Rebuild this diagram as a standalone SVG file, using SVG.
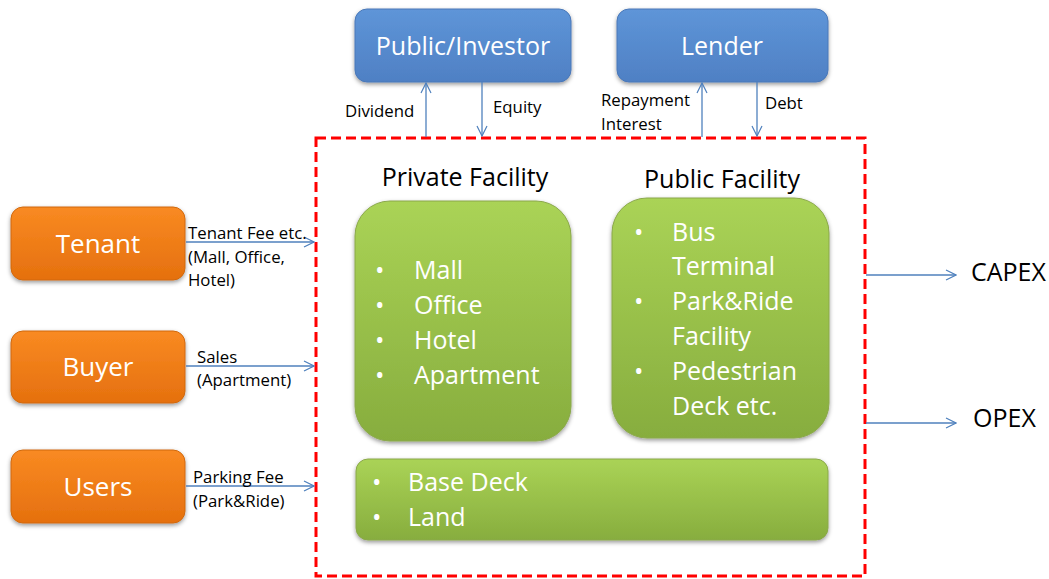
<svg xmlns="http://www.w3.org/2000/svg" width="1049" height="579" viewBox="0 0 1049 579">
<defs>
<linearGradient id="gBlue" x1="0" y1="0" x2="0" y2="1"><stop offset="0" stop-color="#5e95d8"/><stop offset="1" stop-color="#4f80c4"/></linearGradient>
<linearGradient id="gOrange" x1="0" y1="0" x2="0" y2="1"><stop offset="0" stop-color="#f98a22"/><stop offset="1" stop-color="#e5700e"/></linearGradient>
<linearGradient id="gGreen" x1="0" y1="0" x2="0" y2="1"><stop offset="0" stop-color="#aad356"/><stop offset="1" stop-color="#87ad3e"/></linearGradient>
<filter id="sh" x="-10%" y="-10%" width="120%" height="130%"><feDropShadow dx="0" dy="2" stdDeviation="2" flood-color="#000" flood-opacity="0.4"/></filter>
<marker id="arr" viewBox="0 0 12 12" refX="11" refY="6" markerWidth="12" markerHeight="12" markerUnits="userSpaceOnUse" orient="auto"><path d="M1,1 L11,6 L1,11" fill="none" stroke="#4f81bd" stroke-width="1.2"/></marker>
<style>
.blue{fill:url(#gBlue);stroke:#4a78b8;stroke-width:1;filter:url(#sh)}
.orange{fill:url(#gOrange);stroke:#d0690f;stroke-width:1;filter:url(#sh)}
.green{fill:url(#gGreen);stroke:#8aa84a;stroke-width:1;filter:url(#sh)}
.wt{font-family:"Open Sans","Noto Sans",sans-serif;fill:#fff}
.big{font-size:25px}
.lst{font-family:"Open Sans","Noto Sans",sans-serif;fill:#fff;font-size:25px}
.lbl{font-family:"Open Sans","Noto Sans",sans-serif;fill:#000;font-size:16.8px}
.ttl{font-family:"Open Sans","Noto Sans",sans-serif;fill:#000;font-size:25px}
.con{stroke:#4f81bd;stroke-width:1.3;fill:none;marker-end:url(#arr)}
</style>
</defs>
<rect width="1049" height="579" fill="#fff"/>

<rect x="316" y="138" width="549" height="438" fill="none" stroke="#ff0000" stroke-width="3" stroke-dasharray="10,5"/>

<g id="investor"><rect class="blue" x="355" y="9" width="216" height="73" rx="12"/><text class="wt big" x="463" y="55" text-anchor="middle">Public/Investor</text></g>
<g id="lender"><rect class="blue" x="617" y="9" width="211" height="73" rx="12"/><text class="wt big" x="722" y="55" text-anchor="middle">Lender</text></g>

<g id="tenant"><rect class="orange" x="11" y="207" width="174" height="73" rx="12"/><text class="wt" font-size="26" x="98" y="253" text-anchor="middle">Tenant</text></g>
<g id="buyer"><rect class="orange" x="11" y="331" width="174" height="72" rx="12"/><text class="wt" font-size="26" x="98" y="376" text-anchor="middle">Buyer</text></g>
<g id="users"><rect class="orange" x="11" y="450" width="174" height="73" rx="12"/><text class="wt" font-size="26" x="98" y="496" text-anchor="middle">Users</text></g>

<g id="private">
<text class="ttl" x="465" y="186" text-anchor="middle">Private Facility</text>
<rect class="green" x="355" y="201" width="216" height="240" rx="35"/>
<text class="lst" x="375" y="279">•<tspan x="414">Mall</tspan></text>
<text class="lst" x="375" y="314">•<tspan x="414">Office</tspan></text>
<text class="lst" x="375" y="349">•<tspan x="414">Hotel</tspan></text>
<text class="lst" x="375" y="384">•<tspan x="414">Apartment</tspan></text>
</g>
<g id="public">
<text class="ttl" x="722" y="188" text-anchor="middle">Public Facility</text>
<rect class="green" x="612" y="198" width="217" height="240" rx="35"/>
<text class="lst" x="634" y="241">•<tspan x="672">Bus</tspan></text>
<text class="lst" x="672" y="275">Terminal</text>
<text class="lst" x="634" y="310">•<tspan x="672">Park&amp;Ride</tspan></text>
<text class="lst" x="672" y="345">Facility</text>
<text class="lst" x="634" y="380">•<tspan x="672">Pedestrian</tspan></text>
<text class="lst" x="672" y="415">Deck etc.</text>
</g>
<g id="base">
<rect class="green" x="356" y="459" width="472" height="81" rx="12"/>
<text class="lst" x="372" y="491">•<tspan x="408">Base Deck</tspan></text>
<text class="lst" x="372" y="526">•<tspan x="408">Land</tspan></text>
</g>

<g id="connectors">
<line class="con" x1="426" y1="137" x2="426" y2="83"/>
<line class="con" x1="482" y1="82" x2="482" y2="136"/>
<line class="con" x1="702" y1="137" x2="702" y2="83"/>
<line class="con" x1="757" y1="82" x2="757" y2="136"/>
<line class="con" x1="186" y1="242" x2="314" y2="242"/>
<line class="con" x1="186" y1="366" x2="314" y2="366"/>
<line class="con" x1="186" y1="486" x2="314" y2="486"/>
<line class="con" x1="866" y1="275" x2="956" y2="275"/>
<line class="con" x1="866" y1="423" x2="956" y2="423"/>
</g>

<g id="labels">
<text class="lbl" x="345" y="117">Dividend</text>
<text class="lbl" x="493" y="113">Equity</text>
<text class="lbl" x="601" y="106">Repayment</text>
<text class="lbl" x="601" y="130">Interest</text>
<text class="lbl" x="765" y="109">Debt</text>
<text class="lbl" x="188" y="239">Tenant Fee etc.</text>
<text class="lbl" x="188" y="263">(Mall, Office,</text>
<text class="lbl" x="188" y="286">Hotel)</text>
<text class="lbl" x="197" y="363">Sales</text>
<text class="lbl" x="197" y="386">(Apartment)</text>
<text class="lbl" x="193" y="483">Parking Fee</text>
<text class="lbl" x="193" y="507">(Park&amp;Ride)</text>
<text class="ttl" x="971" y="281">CAPEX</text>
<text class="ttl" x="973" y="427">OPEX</text>
</g>
</svg>
